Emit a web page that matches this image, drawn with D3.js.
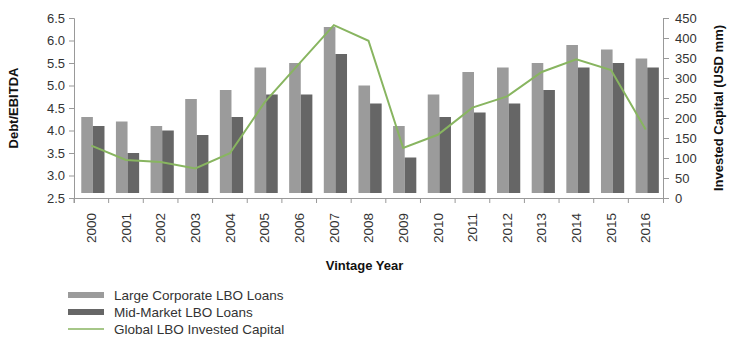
<!DOCTYPE html>
<html>
<head>
<meta charset="utf-8">
<script src="https://cdn.jsdelivr.net/npm/d3@7"></script>
<style>
  body { margin: 0; background: #fff; }
  svg { font-family: "Liberation Sans", Arial, sans-serif; }
  .tick text { fill: #333; font-size: 13px; }
  .domain, .tick line { stroke: #999; }
</style>
</head>
<body>
<svg id="chart" width="731" height="338"></svg>
<script>
const years = ['2000','2001','2002','2003','2004','2005','2006','2007','2008','2009','2010','2011','2012','2013','2014','2015','2016']
const largeCorp = [4.3, 4.2, 4.1, 4.7, 4.9, 5.4, 5.5, 6.3, 5.0, 4.1, 4.8, 5.3, 5.4, 5.5, 5.9, 5.8, 5.6]
const midMarket = [4.1, 3.5, 4.0, 3.9, 4.3, 4.8, 4.8, 5.7, 4.6, 3.4, 4.3, 4.4, 4.6, 4.9, 5.4, 5.5, 5.4]
const investedCapital = [131, 95, 90, 74, 112, 239, 336, 432, 393, 125, 158, 226, 254, 315, 347, 320, 171]
const leftTicks = [2.5, 3.0, 3.5, 4.0, 4.5, 5.0, 5.5, 6.0, 6.5]
const rightTicks = [0, 50, 100, 150, 200, 250, 300, 350, 400, 450]
const legendNames = ['Large Corporate LBO Loans', 'Mid-Market LBO Loans', 'Global LBO Invested Capital']

const colors = { large: '#9b9b9b', mid: '#666666', line: '#88b560' }
const margin = { top: 18, left: 74, right: 68, bottom: 140 }
const width = 731 - margin.left - margin.right
const height = 338 - margin.top - margin.bottom

const svg = d3.select('#chart')
const g = svg.append('g').attr('transform', `translate(${margin.left},${margin.top})`)

let x = d3.scaleBand().domain(years).range([0, width])
let y = d3.scaleLinear().domain([2.5, 6.5]).range([height, 0])
let y2 = d3.scaleLinear().domain([0, 450]).range([height, 0])

const bw = x.bandwidth()
const barW = bw * 0.335
const base = y(2.5) - 5

// bars
g.append('g')
    .selectAll('rect')
    .data(years)
    .enter()
    .append('rect')
    .attr('x', d => x(d) + bw * 0.21)
    .attr('y', (d, i) => y(largeCorp[i]))
    .attr('width', barW)
    .attr('height', (d, i) => base - y(largeCorp[i]))
    .attr('fill', colors.large)

g.append('g')
    .selectAll('rect')
    .data(years)
    .enter()
    .append('rect')
    .attr('x', d => x(d) + bw * 0.21 + barW)
    .attr('y', (d, i) => y(midMarket[i]))
    .attr('width', barW)
    .attr('height', (d, i) => base - y(midMarket[i]))
    .attr('fill', colors.mid)

// line
const line = d3.line()
    .x((d, i) => x(years[i]) + bw / 2)
    .y(d => y2(d))

g.append('path')
    .datum(investedCapital)
    .attr('d', line)
    .attr('fill', 'none')
    .attr('stroke', colors.line)
    .attr('stroke-width', 2)

// axes
g.append('g')
    .call(d3.axisLeft(y).tickValues(leftTicks).tickFormat(d3.format('.1f')).tickSize(5).tickPadding(4))

g.append('g')
    .attr('transform', `translate(${width},0)`)
    .call(d3.axisRight(y2).tickValues(rightTicks).tickSize(6).tickPadding(6))

const xAxis = g.append('g')
    .attr('transform', `translate(0,${height})`)
    .call(d3.axisBottom(x).tickSize(5).tickFormat(''))
xAxis.selectAll('.tick line').attr('transform', `translate(${-bw / 2},0)`)

xAxis.selectAll('.tick')
    .append('text')
    .attr('transform', 'rotate(-90)')
    .attr('x', -15)
    .attr('y', 0)
    .attr('dy', '0.35em')
    .attr('text-anchor', 'end')
    .style('font-size', '13.5px')
    .text(d => d)

// titles
g.append('text')
    .attr('transform', `translate(-56,${height / 2}) rotate(-90)`)
    .attr('text-anchor', 'middle')
    .attr('font-weight', 'bold')
    .attr('font-size', 13)
    .attr('fill', '#111')
    .text('Debt/EBITDA')

g.append('text')
    .attr('transform', `translate(${width + 60},${height / 2}) rotate(-90)`)
    .attr('text-anchor', 'middle')
    .attr('font-weight', 'bold')
    .attr('font-size', 13)
    .attr('fill', '#111')
    .text('Invested Capital (USD mm)')

g.append('text')
    .attr('x', width / 2 - 4)
    .attr('y', height + 72)
    .attr('text-anchor', 'middle')
    .attr('font-weight', 'bold')
    .attr('font-size', 13)
    .attr('fill', '#111')
    .text('Vintage Year')

// legend
const legend = svg.append('g').attr('transform', 'translate(68,295)')
legendNames.forEach((name, i) => {
    const row = legend.append('g').attr('transform', `translate(0,${i * 17})`)
    if (i < 2) {
        row.append('rect')
            .attr('x', 0).attr('y', -3)
            .attr('width', 36).attr('height', 6)
            .attr('fill', i == 0 ? colors.large : colors.mid)
    } else {
        row.append('line')
            .attr('x1', 0).attr('x2', 36)
            .attr('stroke', colors.line)
            .attr('stroke-width', 1.5)
    }
    row.append('text')
        .attr('x', 46)
        .attr('dy', '0.35em')
        .attr('font-size', 13.5)
        .attr('fill', '#333')
        .text(name)
})
</script>
</body>
</html>
